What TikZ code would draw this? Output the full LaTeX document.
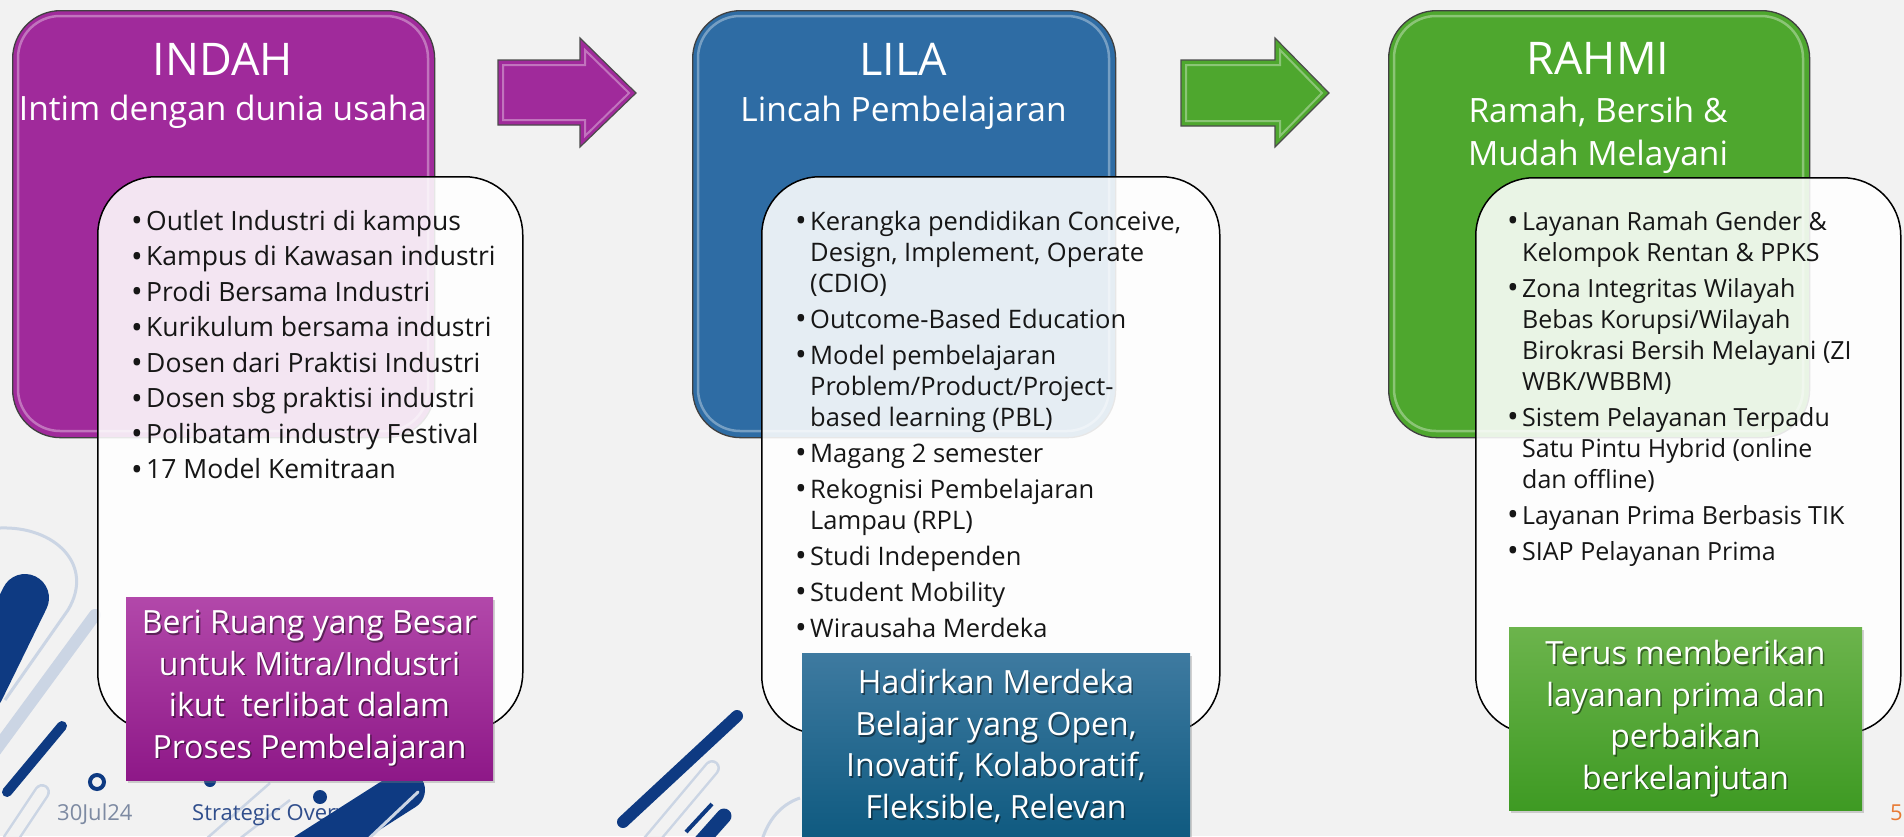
\documentclass[tikz,border=0pt]{standalone}
\usepackage{fontspec}
\setmainfont{Open Sans}
\usetikzlibrary{shadows}
\definecolor{bgc}{RGB}{242,242,242}
\definecolor{indahc}{RGB}{160,42,155}
\definecolor{lilac}{RGB}{46,108,164}
\definecolor{rahmic}{RGB}{78,167,46}
\definecolor{navyc}{RGB}{14,58,130}
\definecolor{decoc}{RGB}{203,213,228}
\definecolor{inkc}{RGB}{22,22,22}
\definecolor{datec}{RGB}{125,138,162}
\definecolor{footc}{RGB}{48,78,140}
\definecolor{pagec}{RGB}{232,122,52}
\newcommand{\bitem}[1]{\par\hangindent=15pt\hangafter=1\noindent\makebox[15pt][l]{\raisebox{-1.5pt}{\fontsize{31}{31}\selectfont\textbullet}}#1}
\tikzset{
  mainbox/.style={draw=black!75, line width=1.3pt, rounded corners=48pt, minimum height=427pt, anchor=north west, inner sep=0pt},
  bevel/.style={draw=white, draw opacity=0.35, line width=2.5pt, rounded corners=42pt},
  listbox/.style={draw=black, line width=1.5pt, fill=white, fill opacity=0.88, rounded corners=58pt, anchor=north west, inner sep=0pt},
  callbox/.style={drop shadow={shadow xshift=2pt, shadow yshift=-3pt, opacity=0.35}},
  titletext/.style={text=white, anchor=base, inner sep=0pt, font=\fontsize{45}{52}\selectfont},
  subtext/.style={text=white, anchor=base, inner sep=0pt, font=\fontsize{33.5}{43}\selectfont},
  listtext/.style={text=inkc, anchor=base west, inner sep=0pt},
  calltext/.style={text=white, align=center, inner sep=0pt, font=\fontsize{32}{41.5}\selectfont},
  callshadow/.style={calltext, text=black, text opacity=0.45, xshift=1.5pt, yshift=-1.8pt},
  blockarrow/.style={draw=black!70, line width=1.2pt},
  foottext/.style={anchor=base west, inner sep=0pt, font=\fontsize{22}{24}\selectfont}
}
\begin{document}
\begin{tikzpicture}[x=1pt,y=-1pt]
\fill[bgc] (0,0) rectangle (1904,836);
\useasboundingbox (0,0) rectangle (1904,836);

% background decoration
\draw[decoc, line width=3pt] (0,528) .. controls (55,526) and (95,565) .. (68,610) -- (5,700);
\draw[decoc, line width=12pt, line cap=round] (-10,758) -- (95,615);
\draw[decoc, line width=16pt, line cap=round] (10,840) -- (42,792);
\draw[bgc, line width=11pt, line cap=round] (10,840) -- (42,792);
\draw[decoc, line width=2.5pt] (205,840) -- (270,783);
\draw[decoc, line width=2.5pt] (238,840) -- (290,800);
\draw[decoc, line width=16pt, line cap=round] (643,850) -- (712,768);
\draw[bgc, line width=11pt, line cap=round] (643,850) -- (712,768);
\draw[decoc, line width=3pt] (762,840) .. controls (770,815) and (785,803) .. (800,798);

\node[foottext, text=datec] (date) at (57,820) {30Jul24};
\node[foottext, text=footc] (foot) at (192,820) {Strategic Overv};
\node[foottext, text=pagec] (page) at (1890,820) {5};

\draw[navyc, line width=48pt, line cap=round] (-20,690) -- (25,598);
\draw[navyc, line width=10pt, line cap=round] (7,792) -- (62,726);
\draw[navyc, line width=4pt] (97,782) circle (7);
\fill[navyc] (320,797) circle (7);
\fill[navyc] (210,781) circle (6);
\draw[navyc, line width=40pt, line cap=round] (306,853) -- (405,790);
\draw[decoc, line width=3pt, line cap=round] (362,845) -- (418,792);
\draw[navyc, line width=12pt, line cap=round] (623,822) -- (737,716);
\draw[navyc, line width=4pt] (686,832) -- (712,804);
\draw[navyc, line width=15pt, line cap=round] (692,852) -- (724,816);

% arrows
\filldraw[blockarrow, fill=indahc] (498,60) -- (580,60) -- (580,38) -- (636,93) -- (580,147) -- (580,125) -- (498,125) -- cycle;
\draw[white, opacity=0.35, line width=2pt] (503,65) -- (585,65) -- (585,50) -- (629,93) -- (585,136) -- (585,120) -- (503,120) -- cycle;
\filldraw[blockarrow, fill=rahmic] (1181,60) -- (1275,60) -- (1275,38) -- (1329,93) -- (1275,147) -- (1275,126) -- (1181,126) -- cycle;
\draw[white, opacity=0.35, line width=2pt] (1186,65) -- (1280,65) -- (1280,50) -- (1322,93) -- (1280,136) -- (1280,121) -- (1186,121) -- cycle;

% INDAH
\node[mainbox, fill=indahc, minimum width=422pt] (indah) at (12,10) {};
\draw[bevel] (18,16) rectangle (428,431);
\node[titletext] (indahT) at (223,75) {INDAH};
\node[subtext] (indahS) at (223,120) {Intim dengan dunia usaha};
\node[listbox, minimum width=425pt, minimum height=554pt] (indahW) at (97,176) {};
\node[listtext] (indahL) at (131,230) {\parbox[t]{385pt}{\fontsize{26.5}{31}\selectfont\raggedright\setlength{\parskip}{4.5pt}%
\bitem{Outlet Industri di kampus}
\bitem{Kampus di Kawasan industri}
\bitem{Prodi Bersama Industri}
\bitem{Kurikulum bersama industri}
\bitem{Dosen dari Praktisi Industri}
\bitem{Dosen sbg praktisi industri}
\bitem{Polibatam industry Festival}
\bitem{17 Model Kemitraan}}};
\shade[callbox, top color={rgb,255:red,178;green,72;blue,170}, bottom color={rgb,255:red,142;green,24;blue,136}] (126,597) rectangle (493,780);
\node[callshadow] at (309.5,688) {Beri Ruang yang Besar\\untuk Mitra/Industri\\ikut~ terlibat dalam\\Proses Pembelajaran};
\node[calltext] (beri) at (309.5,688) {Beri Ruang yang Besar\\untuk Mitra/Industri\\ikut~ terlibat dalam\\Proses Pembelajaran};

% LILA
\node[mainbox, fill=lilac, minimum width=423pt] (lila) at (692,10) {};
\draw[bevel] (698,16) rectangle (1109,431);
\node[titletext] (lilaT) at (903.5,75) {LILA};
\node[subtext] (lilaS) at (903.5,121) {Lincah Pembelajaran};
\node[listbox, minimum width=458pt, minimum height=557pt] (lilaW) at (761,176) {};
\node[listtext] (lilaL) at (795,230) {\parbox[t]{420pt}{\fontsize{25.5}{31}\selectfont\raggedright\setlength{\parskip}{5pt}%
\bitem{Kerangka pendidikan Conceive,\newline Design, Implement, Operate\newline (CDIO)}
\bitem{Outcome-Based Education}
\bitem{Model pembelajaran\newline Problem/Product/Project-\newline based learning (PBL)}
\bitem{Magang 2 semester}
\bitem{Rekognisi Pembelajaran\newline Lampau (RPL)}
\bitem{Studi Independen}
\bitem{Student Mobility}
\bitem{Wirausaha Merdeka}}};
\shade[callbox, top color={rgb,255:red,62;green,122;blue,160}, bottom color={rgb,255:red,12;green,88;blue,126}] (802,653) rectangle (1190,850);
\node[callshadow] at (996,746) {Hadirkan Merdeka\\Belajar yang Open,\\Inovatif, Kolaboratif,\\Fleksible, Relevan};
\node[calltext] (hadir) at (996,746) {Hadirkan Merdeka\\Belajar yang Open,\\Inovatif, Kolaboratif,\\Fleksible, Relevan};

% RAHMI
\node[mainbox, fill=rahmic, minimum width=421pt] (rahmi) at (1388,10) {};
\draw[bevel] (1394,16) rectangle (1803,431);
\node[titletext] (rahmiT) at (1598,74) {RAHMI};
\node[subtext] (rahmiS1) at (1598,122) {Ramah, Bersih \&};
\node[subtext] (rahmiS2) at (1598,165) {Mudah Melayani};
\node[listbox, minimum width=425pt, minimum height=556pt] (rahmiW) at (1475,177) {};
\node[listtext] (rahmiL) at (1507,230) {\parbox[t]{390pt}{\fontsize{25}{31}\selectfont\raggedright\setlength{\parskip}{5pt}%
\bitem{Layanan Ramah Gender \&\newline Kelompok Rentan \& PPKS}
\bitem{Zona Integritas Wilayah\newline Bebas Korupsi/Wilayah\newline Birokrasi Bersih Melayani (ZI\newline WBK/WBBM)}
\bitem{Sistem Pelayanan Terpadu\newline Satu Pintu Hybrid (online\newline dan offline)}
\bitem{Layanan Prima Berbasis TIK}
\bitem{SIAP Pelayanan Prima}}};
\shade[callbox, top color={rgb,255:red,108;green,180;blue,76}, bottom color={rgb,255:red,62;green,154;blue,35}] (1509,627) rectangle (1862,810);
\node[callshadow] at (1685.5,718.5) {Terus memberikan\\layanan prima dan\\perbaikan\\berkelanjutan};
\node[calltext] (terus) at (1685.5,718.5) {Terus memberikan\\layanan prima dan\\perbaikan\\berkelanjutan};
\end{tikzpicture}
\end{document}
